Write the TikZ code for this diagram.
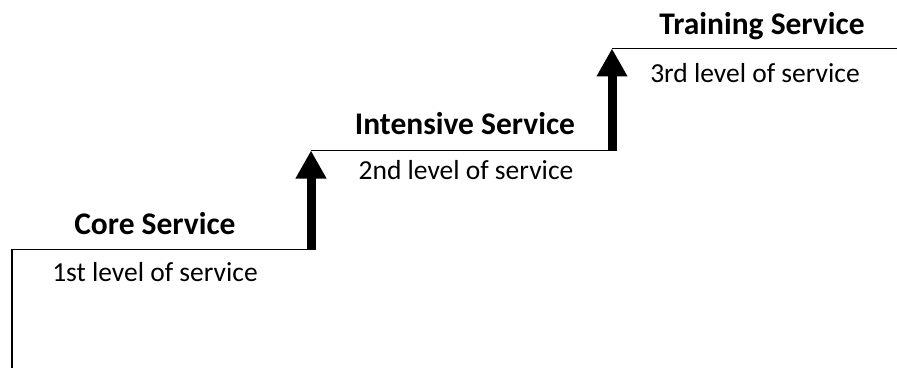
\documentclass[tikz,border=0pt]{standalone}
\usepackage{fontspec}
\setmainfont{Carlito}
\usetikzlibrary{arrows.meta}
\begin{document}
\begin{tikzpicture}[x=1pt,y=-1pt,
  stair/.style={line width=1.5pt},
  riser/.style={line width=9pt,-{Triangle[width=29pt,length=28pt]}},
  title/.style={font=\fontsize{31.5}{36}\selectfont\bfseries},
  sub/.style={font=\fontsize{27.5}{32}\selectfont}]
\useasboundingbox (0,0) rectangle (897,369);
% stair corners
\coordinate (base) at (12,368);
\coordinate (c1) at (12,249.5);
\coordinate (a1) at (311,249.5);
\coordinate (t1) at (311,150.5);
\coordinate (a2) at (612,150.5);
\coordinate (t2) at (612,48.5);
\coordinate (e3) at (897,48.5);
% treads
\draw[stair] (base) -- (c1) -- (a1);
\draw[stair] (t1) -- (a2);
\draw[stair] (t2) -- (e3);
% risers as thick arrows
\draw[riser] (a1) -- (t1);
\draw[riser] (a2) -- (t2);
% labels
\node[title] (core) at (155,224) {Core Service};
\node[sub] (l1) at (155,272) {1st level of service};
\node[title] (int) at (465,124) {Intensive Service};
\node[sub] (l2) at (466,170) {2nd level of service};
\node[title] (tr) at (762,26) {Training Service};
\node[sub] (l3) at (755,73) {3rd level of service};
\end{tikzpicture}
\end{document}
